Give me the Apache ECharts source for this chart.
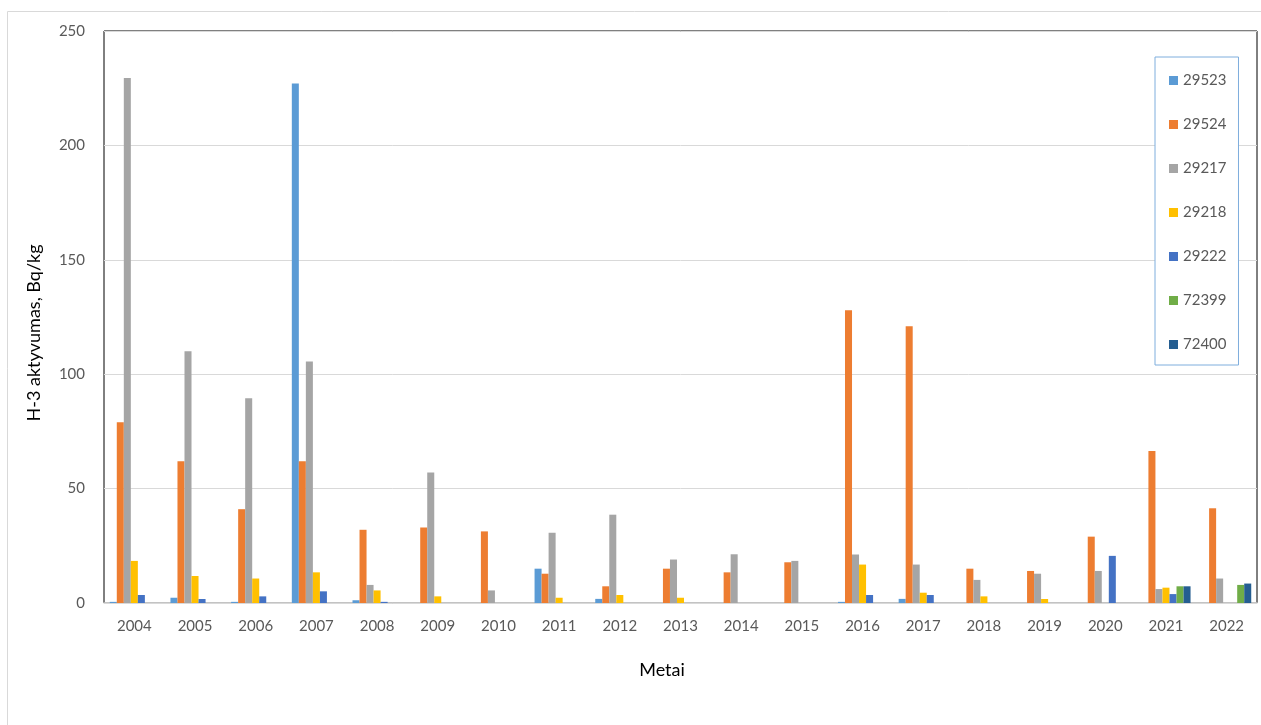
<!DOCTYPE html>
<html>
<head>
<meta charset="utf-8">
<script src="https://cdn.jsdelivr.net/npm/echarts@6/dist/echarts.min.js"></script>
<style>
html,body{margin:0;padding:0;background:#fff;}
#chart{width:1261px;height:725px;}
</style>
</head>
<body>
<div id="chart"></div>
<script>
var years = ['2004','2005','2006','2007','2008','2009','2010','2011','2012','2013','2014','2015','2016','2017','2018','2019','2020','2021','2022'];
var seriesNames = ['29523','29524','29217','29218','29222','72399','72400'];
var colors = ['#5B9BD5','#ED7D31','#A5A5A5','#FFC000','#4472C4','#70AD47','#255E91'];
var s29523 = [0.5, 2.3, 0.5, 227, 1.2, null, null, 15, 1.8, null, null, null, 0.5, 1.8, null, null, null, null, null];
var s29524 = [79, 62, 41, 62, 32, 33, 31.3, 12.8, 7.3, 15, 13.4, 17.8, 128, 121, 15, 14, 29, 66.4, 41.4];
var s29217 = [229.5, 110, 89.5, 105.6, 7.9, 57, 5.5, 30.7, 38.6, 19, 21.3, 18.4, 21.2, 16.8, 10.1, 12.8, 14, 6.1, 10.7];
var s29218 = [18.4, 11.8, 10.7, 13.4, 5.5, 2.9, null, 2.3, 3.5, 2.3, null, null, 16.8, 4.5, 2.9, 1.75, null, 6.7, null];
var s29222 = [3.5, 1.75, 2.9, 5.1, 0.5, null, null, null, null, null, null, null, 3.5, 3.5, null, null, 20.6, 3.9, null];
var s72399 = [null, null, null, null, null, null, null, null, null, null, null, null, null, null, null, null, null, 7.3, 7.9];
var s72400 = [null, null, null, null, null, null, null, null, null, null, null, null, null, null, null, null, null, 7.3, 8.5];
var allData = [s29523, s29524, s29217, s29218, s29222, s72399, s72400];

var FONT = 'Lato, "Open Sans", sans-serif';
var chart = echarts.init(document.getElementById('chart'));
var series = seriesNames.map(function(n, i){
  return {
    name: n, type: 'bar', data: allData[i],
    barGap: '0%', barCategoryGap: '19%',
    itemStyle: {color: colors[i]}
  };
});
chart.setOption({
  animation: false,
  color: colors,
  graphic: [{
    type: 'rect', silent: true, z: -10,
    shape: {x: 7.5, y: 11.5, width: 1400, height: 900},
    style: {fill: 'none', stroke: '#D9D9D9', lineWidth: 1}
  }],
  grid: {left: 104, right: 4, top: 31, bottom: 122, show: true, borderColor: '#000', borderWidth: 1, backgroundColor: 'transparent'},
  legend: {
    orient: 'vertical', left: 1155, top: 57,
    padding: [16, 12, 13, 14],
    itemWidth: 9, itemHeight: 9, itemGap: 29,
    borderColor: '#7FAEDD', borderWidth: 1,
    backgroundColor: '#fff',
    icon: 'rect',
    textStyle: {color: '#595959', fontSize: 15, fontFamily: FONT, lineHeight: 14},
    data: seriesNames
  },
  xAxis: {
    type: 'category', data: years,
    name: 'Metai', nameLocation: 'middle', nameGap: 58,
    nameTextStyle: {color: '#000', fontSize: 18, fontFamily: FONT, padding: [0, 37, 0, 0]},
    axisLine: {show: true, lineStyle: {color: '#D9D9D9', width: 1.5}},
    axisTick: {show: false},
    axisLabel: {color: '#595959', fontSize: 15, fontFamily: FONT, margin: 16}
  },
  yAxis: {
    type: 'value', min: 0, max: 250, interval: 50,
    name: 'H-3 aktyvumas, Bq/kg', nameLocation: 'middle', nameGap: 61,
    nameTextStyle: {color: '#000', fontSize: 18, fontFamily: FONT, padding: [0, 32, 0, 0]},
    axisLine: {show: false}, axisTick: {show: false},
    axisLabel: {color: '#595959', fontSize: 15, fontFamily: FONT, margin: 19},
    splitLine: {lineStyle: {color: '#D9D9D9', width: 1}}
  },
  series: series
});
</script>
</body>
</html>
